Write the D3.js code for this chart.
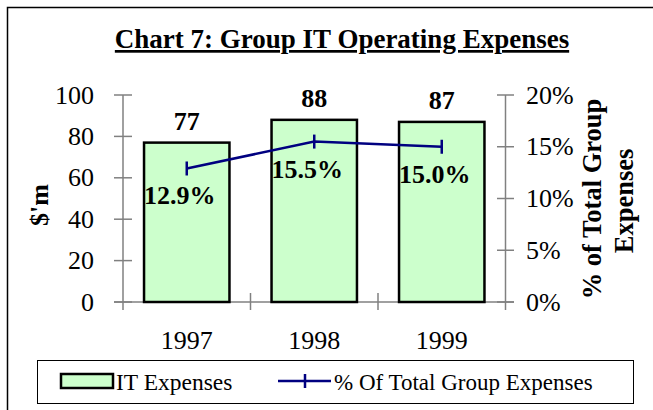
<!DOCTYPE html>
<html>
<head>
<meta charset="utf-8">
<script src="https://cdn.jsdelivr.net/npm/d3@7"></script>
<style>
  body { margin: 0; background: #fff; }
</style>
</head>
<body>
<svg width="653" height="410"></svg>
<script>
const years = ["1997", "1998", "1999"];
const itExpenses = [77, 88, 87];
const pctOfTotal = [12.9, 15.5, 15.0];
const leftTicks = [0, 20, 40, 60, 80, 100];
const rightTicks = [0, 5, 10, 15, 20];

const FONT = "'Liberation Serif', 'Times New Roman', Times, serif";
let svg = d3.select("svg").attr("font-family", FONT);

function txt(parent, x, y, size, bold, s) {
  return parent.append("text").attr("x", x).attr("y", y)
    .attr("font-family", FONT).attr("font-size", size)
    .attr("font-weight", bold ? "bold" : "normal").attr("fill", "#000").text(s);
}

// outer frame (runs off the right and bottom)
svg.append("rect").attr("x", 7.5).attr("y", 7.5).attr("width", 700).attr("height", 450)
  .style("fill", "none").style("stroke", "#000").style("stroke-width", 1.5);

// title
txt(svg, 342, 48, 27, true, "Chart 7: Group IT Operating Expenses")
  .attr("text-anchor", "middle").style("text-decoration", "underline");

const x = d3.scaleBand().domain(years).range([123, 505.5]).paddingInner(0).paddingOuter(0);
const yL = d3.scaleLinear().domain([0, 100]).range([302, 95]);
const yR = d3.scaleLinear().domain([0, 20]).range([302, 95]);
const barW = x.bandwidth() * 0.67;
const axisCol = "#808080";

// left axis
svg.append("line").attr("x1", 123).attr("x2", 123).attr("y1", yL(100)).attr("y2", 310)
  .style("stroke", axisCol).style("stroke-width", 1.5);
leftTicks.forEach(t => {
  svg.append("line").attr("x1", 114).attr("x2", 132).attr("y1", yL(t)).attr("y2", yL(t))
    .style("stroke", axisCol).style("stroke-width", 1.5);
  txt(svg, 94, yL(t) + 8.5, 26, false, t).attr("text-anchor", "end");
});

// right axis
svg.append("line").attr("x1", 505.5).attr("x2", 505.5).attr("y1", yR(20)).attr("y2", 310)
  .style("stroke", axisCol).style("stroke-width", 1.5);
rightTicks.forEach(t => {
  svg.append("line").attr("x1", 497).attr("x2", 514).attr("y1", yR(t)).attr("y2", yR(t))
    .style("stroke", axisCol).style("stroke-width", 1.5);
  txt(svg, 526, yR(t) + 8.5, 26, false, t + "%");
});

// bottom axis
svg.append("line").attr("x1", 114).attr("x2", 514).attr("y1", 302).attr("y2", 302)
  .style("stroke", axisCol).style("stroke-width", 1.5);
years.forEach((yr, i) => {
  if (i > 0) {
    svg.append("line").attr("x1", x(yr)).attr("x2", x(yr)).attr("y1", 293).attr("y2", 310)
      .style("stroke", axisCol).style("stroke-width", 1.5);
  }
  txt(svg, x(yr) + x.bandwidth() / 2, 349, 26, false, yr).attr("text-anchor", "middle");
});

// bars
svg.selectAll(".bar").data(itExpenses).enter().append("rect")
  .attr("x", (d, i) => x(years[i]) + (x.bandwidth() - barW) / 2)
  .attr("y", d => yL(d))
  .attr("width", barW)
  .attr("height", d => yL(0) - yL(d))
  .style("fill", "#CCFFCC").style("stroke", "#000").style("stroke-width", 2.5);

itExpenses.forEach((d, i) => {
  txt(svg, x(years[i]) + x.bandwidth() / 2, yL(d) - 13, 26, true, d).attr("text-anchor", "middle");
});

// line
const cx = i => x(years[i]) + x.bandwidth() / 2;
const line = d3.line().x((d, i) => cx(i)).y(d => yR(d));
svg.append("path").attr("d", line(pctOfTotal))
  .style("fill", "none").style("stroke", "#000080").style("stroke-width", 2.5);
pctOfTotal.forEach((d, i) => {
  svg.append("line").attr("x1", cx(i)).attr("x2", cx(i)).attr("y1", yR(d) - 7).attr("y2", yR(d) + 7)
    .style("stroke", "#000080").style("stroke-width", 2.5);
  txt(svg, cx(i) - 7, yR(d) + 36, 26, true, d.toFixed(1) + "%").attr("text-anchor", "middle");
});

// axis titles
txt(svg, 0, 0, 26, true, "$'m").attr("transform", "translate(48,205) rotate(-90)").attr("text-anchor", "middle");
txt(svg, 0, 0, 26.5, true, "% of Total Group").attr("transform", "translate(601,199) rotate(-90)").attr("text-anchor", "middle");
txt(svg, 0, 0, 26.5, true, "Expenses").attr("transform", "translate(633,201) rotate(-90)").attr("text-anchor", "middle");

// legend
let legend = svg.append("g");
legend.append("rect").attr("x", 37.5).attr("y", 360.5).attr("width", 596).attr("height", 43)
  .style("fill", "#fff").style("stroke", "#000").style("stroke-width", 1);
legend.append("rect").attr("x", 61).attr("y", 374).attr("width", 52).attr("height", 14)
  .style("fill", "#CCFFCC").style("stroke", "#000").style("stroke-width", 2.5);
txt(legend, 116, 390, 23.5, false, "IT Expenses");
legend.append("line").attr("x1", 278).attr("x2", 331).attr("y1", 381).attr("y2", 381)
  .style("stroke", "#000080").style("stroke-width", 2.5);
legend.append("line").attr("x1", 305).attr("x2", 305).attr("y1", 374).attr("y2", 388)
  .style("stroke", "#000080").style("stroke-width", 2.5);
txt(legend, 334, 390, 23, false, "% Of Total Group Expenses");
</script>
</body>
</html>
